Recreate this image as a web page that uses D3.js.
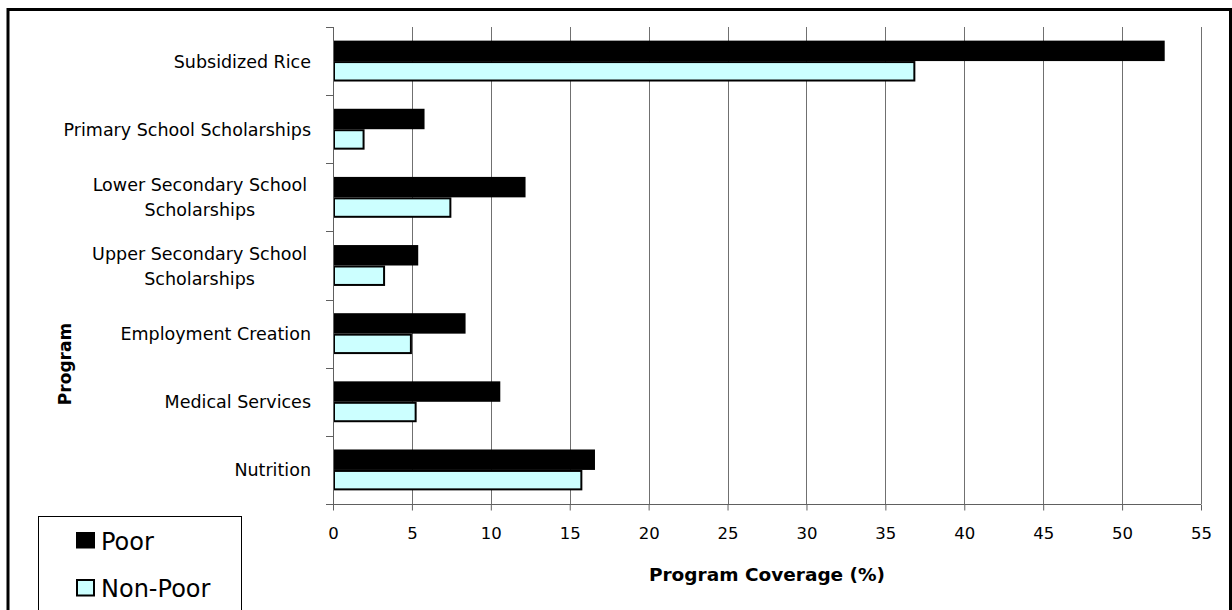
<!DOCTYPE html>
<html>
<head>
<meta charset="utf-8">
<script src="https://cdn.jsdelivr.net/npm/d3@7"></script>
<style>
  html, body { margin: 0; padding: 0; background: #fff; }
  svg { display: block; }
  text { font-family: "DejaVu Sans", Verdana, sans-serif; fill: #000; }
</style>
</head>
<body>
<svg id="chart" width="1232" height="610"></svg>
<script>
const categories = [
  "Subsidized Rice",
  "Primary School Scholarships",
  "Lower Secondary School Scholarships",
  "Upper Secondary School Scholarships",
  "Employment Creation",
  "Medical Services",
  "Nutrition"
];
const categoryLines = [
  ["Subsidized Rice"],
  ["Primary School Scholarships"],
  ["Lower Secondary School", "Scholarships"],
  ["Upper Secondary School", "Scholarships"],
  ["Employment Creation"],
  ["Medical Services"],
  ["Nutrition"]
];
const seriesNames = ["Poor", "Non-Poor"];
const poor    = [52.7, 5.8, 12.2, 5.4, 8.4, 10.6, 16.6];
const nonPoor = [36.9, 2.0, 7.5, 3.3, 5.0, 5.3, 15.8];
const xTicks  = [0, 5, 10, 15, 20, 25, 30, 35, 40, 45, 50, 55];
const xTitle = "Program Coverage (%)";
const yTitle = "Program";

const svg = d3.select("#chart");
const pLeft = 333, pRight = 1201, pTop = 27, pBottom = 504;

// outer frame
svg.append("rect").attr("x", 8).attr("y", 9.5).attr("width", 1222.5).attr("height", 700)
  .attr("fill", "#fff").attr("stroke", "#000").attr("stroke-width", 3);

const x = d3.scaleLinear().domain([0, 55]).range([pLeft, pRight]);
const y = d3.scaleBand().domain(categories).range([pTop, pBottom]).paddingInner(0.4).paddingOuter(0.2);
const ySub = d3.scaleBand().domain(seriesNames).range([0, y.bandwidth()]);

// gridlines
svg.append("g").selectAll("line").data(xTicks.slice(1)).join("line")
  .attr("x1", d => Math.round(x(d)) + 0.5).attr("x2", d => Math.round(x(d)) + 0.5)
  .attr("y1", pTop).attr("y2", pBottom)
  .attr("stroke", "#707070").attr("stroke-width", 1);

// bars
const rows = categories.map((c, i) => ({c, poor: poor[i], nonPoor: nonPoor[i]}));
const g = svg.append("g");
g.selectAll("rect.poor").data(rows).join("rect").attr("class", "poor")
  .attr("x", x(0)).attr("y", d => y(d.c) + ySub("Poor"))
  .attr("width", d => x(d.poor) - x(0)).attr("height", ySub.bandwidth())
  .attr("fill", "#000");
g.selectAll("rect.np").data(rows).join("rect").attr("class", "np")
  .attr("x", x(0) + 1).attr("y", d => y(d.c) + ySub("Non-Poor") + 1)
  .attr("width", d => x(d.nonPoor) - x(0) - 2).attr("height", ySub.bandwidth() - 2)
  .attr("fill", "#CCFFFF").attr("stroke", "#000").attr("stroke-width", 2);

// x axis
const xAxis = d3.axisBottom(x).tickValues(xTicks).tickSize(6).tickPadding(14).tickFormat(d3.format("d"));
const gx = svg.append("g").attr("transform", `translate(0,${pBottom + 0.5})`).call(xAxis);
gx.select(".domain").attr("stroke", "#606060").attr("d", `M${pLeft - 7},0H${pRight}`);
gx.selectAll(".tick line").attr("stroke", "#606060");
gx.selectAll(".tick text").attr("font-size", 16.5).attr("font-family", "DejaVu Sans").attr("dy", "0.9em");

// y axis: ticks at category boundaries
const bounds = d3.range(categories.length + 1).map(i => pTop + i * y.step());
const gy = svg.append("g");
gy.append("line").attr("x1", pLeft + 0.5).attr("x2", pLeft + 0.5).attr("y1", pTop).attr("y2", pBottom)
  .attr("stroke", "#606060");
gy.selectAll("line.t").data(bounds).join("line").attr("class", "t")
  .attr("x1", pLeft - 7).attr("x2", pLeft).attr("y1", d => Math.round(d) + 0.5).attr("y2", d => Math.round(d) + 0.5)
  .attr("stroke", "#606060");

// category labels
const labelRight = 311;
categoryLines.forEach((lines, i) => {
  const cy = y(categories[i]) + y.bandwidth() / 2;
  const lh = 25;
  const t = svg.append("text").attr("font-size", 17.5);
  if (lines.length === 1) {
    t.attr("x", labelRight).attr("y", cy + 6.5).attr("text-anchor", "end").text(lines[0]);
  } else {
    const tmp = svg.append("text").attr("font-size", 17.5).text(lines[0]);
    const w = tmp.node().getComputedTextLength();
    tmp.remove();
    const cx = labelRight - 4 - w / 2;
    t.attr("text-anchor", "middle");
    lines.forEach((ln, j) => {
      t.append("tspan").attr("x", cx).attr("y", cy + 6.5 + (j - (lines.length - 1) / 2) * lh).text(ln);
    });
  }
});

// axis titles
svg.append("text").attr("x", (pLeft + pRight) / 2).attr("y", 581).attr("text-anchor", "middle")
  .attr("font-size", 18.5).attr("font-weight", "bold").text(xTitle);
svg.append("text").attr("transform", "translate(71,364) rotate(-90)").attr("text-anchor", "middle")
  .attr("font-size", 17).attr("font-weight", "bold").text(yTitle);

// legend
svg.append("rect").attr("x", 38.5).attr("y", 516.5).attr("width", 203).attr("height", 120)
  .attr("fill", "#fff").attr("stroke", "#000").attr("stroke-width", 1);
const leg = [
  {name: seriesNames[0], fill: "#000", stroke: "none", y: 532},
  {name: seriesNames[1], fill: "#CCFFFF", stroke: "#000", y: 579}
];
leg.forEach(l => {
  svg.append("rect").attr("x", l.stroke === "none" ? 76 : 77).attr("y", l.stroke === "none" ? l.y : l.y + 1)
    .attr("width", l.stroke === "none" ? 19 : 17).attr("height", l.stroke === "none" ? 16.5 : 15.5)
    .attr("fill", l.fill).attr("stroke", l.stroke).attr("stroke-width", 2);
  svg.append("text").attr("x", 101).attr("y", l.y + 17.5).attr("font-size", 24).text(l.name);
});
</script>
</body>
</html>
